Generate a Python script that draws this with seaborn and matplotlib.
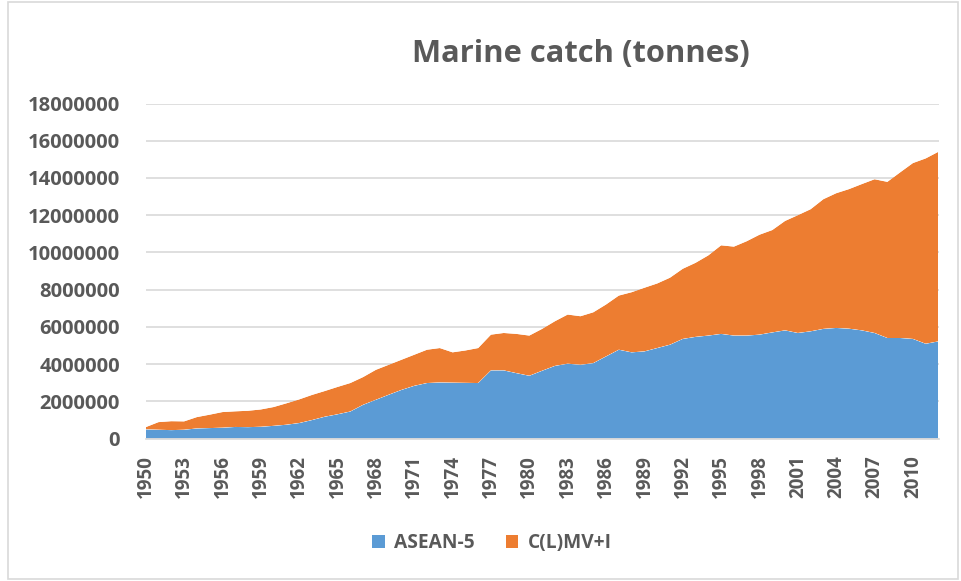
import matplotlib
matplotlib.use("Agg")
import matplotlib.pyplot as plt
import pandas as pd
import seaborn as sns
import seaborn.objects as so
from matplotlib.patches import Rectangle, Patch

# ---------------- data (tonnes) ----------------
years = list(range(1950, 2013))
asean5 = [
    490000, 470000, 450000, 470000, 540000, 560000, 580000, 620000, 610000, 630000,
    680000, 740000, 830000, 990000, 1170000, 1300000, 1450000, 1810000, 2080000, 2350000,
    2610000, 2830000, 2980000, 3010000, 3000000, 2990000, 2980000, 3660000, 3660000, 3510000,
    3370000, 3640000, 3900000, 4020000, 3960000, 4050000, 4410000, 4770000, 4630000, 4680000,
    4860000, 5040000, 5350000, 5460000, 5530000, 5620000, 5530000, 5530000, 5580000, 5700000,
    5810000, 5670000, 5760000, 5890000, 5940000, 5900000, 5810000, 5670000, 5400000, 5400000,
    5350000, 5090000, 5220000,
]
clmvi = [
    120000, 410000, 480000, 450000, 610000, 720000, 840000, 840000, 880000, 930000,
    1010000, 1150000, 1270000, 1350000, 1380000, 1470000, 1530000, 1490000, 1610000, 1610000,
    1620000, 1670000, 1790000, 1850000, 1630000, 1740000, 1880000, 1920000, 2010000, 2110000,
    2160000, 2250000, 2400000, 2640000, 2610000, 2730000, 2790000, 2910000, 3230000, 3420000,
    3470000, 3600000, 3770000, 3980000, 4310000, 4760000, 4780000, 5070000, 5370000, 5500000,
    5880000, 6330000, 6560000, 6970000, 7240000, 7500000, 7860000, 8260000, 8390000, 8900000,
    9450000, 9960000, 10190000,
]
series_names = ["ASEAN-5", "C(L)MV+I"]
series_colors = ["#5B9BD5", "#ED7D31"]
title_text = "Marine catch (tonnes)"
ytick_values = list(range(0, 18000001, 2000000))
xtick_label_years = list(range(1950, 2011, 3))

df = pd.DataFrame({
    "year": years + years,
    "tonnes": asean5 + clmvi,
    "region": [series_names[0]] * len(years) + [series_names[1]] * len(years),
})

# ---------------- style ----------------
sns.set_theme(style="white")
plt.rcParams["font.family"] = ["Open Sans", "DejaVu Sans"]
TXT = "#595959"
GRID = "#D9D9D9"

W, H = 961, 581
fig = plt.figure(figsize=(W / 100, H / 100), dpi=100)
fig.patch.set_facecolor("white")

left_px, right_px, top_px, bottom_px = 145.7, 938.5, 103.5, 438.5
ax = fig.add_axes([left_px / W, (H - bottom_px) / H,
                   (right_px - left_px) / W, (bottom_px - top_px) / H])

theme = {**sns.axes_style("white"), "font.family": ["Open Sans", "DejaVu Sans"]}
(
    so.Plot(df, x="year", y="tonnes", color="region")
    .add(so.Area(alpha=1, edgewidth=0), so.Stack(), legend=False)
    .scale(color=so.Nominal(series_colors, order=series_names))
    .theme(theme)
    .on(ax)
    .plot()
)

ax.set_facecolor("white")
ax.set_xlim(years[0], years[-1])
ax.set_ylim(0, ytick_values[-1])
ax.set_xlabel("")
ax.set_ylabel("")
ax.set_axisbelow(True)

ax.set_yticks(ytick_values)
ax.set_yticklabels([str(v) for v in ytick_values], fontsize=14.5,
                   fontweight="bold", color=TXT)
ax.set_xticks(years)
ax.set_xticklabels([str(y) if y in xtick_label_years else "" for y in years],
                   rotation=90, fontsize=13.5, fontweight="bold", color=TXT)
ax.tick_params(axis="y", length=0, pad=18.5)
ax.tick_params(axis="x", length=4, width=1, color=GRID, pad=8)
ax.yaxis.grid(True, color=GRID, lw=1.2)
ax.xaxis.grid(False)
for s in ["left", "right", "top"]:
    ax.spines[s].set_visible(False)
ax.spines["bottom"].set_color(GRID)
ax.spines["bottom"].set_linewidth(1.2)

# title
fig.text(581 / W, 1 - 54 / H, title_text, ha="center", va="center",
         fontsize=22.2, fontweight="bold", color=TXT)

# legend
handles = [Patch(facecolor=c, edgecolor="none", label=n)
           for c, n in zip(series_colors, series_names)]
leg = fig.legend(handles=handles, loc="center", ncol=2,
                 bbox_to_anchor=(492 / W, 1 - 543 / H), frameon=False,
                 handlelength=0.65, handleheight=0.65, handletextpad=0.5,
                 columnspacing=1.6, prop={"size": 13.8, "weight": "bold"})
for t in leg.get_texts():
    t.set_color(TXT)

# chart border
fig.patches.append(Rectangle((8 / W, 2 / H), (958 - 8) / W, (579 - 2) / H,
                             transform=fig.transFigure, fill=False,
                             edgecolor=GRID, lw=1.2))

fig.savefig("out.png", dpi=100, facecolor="white")
